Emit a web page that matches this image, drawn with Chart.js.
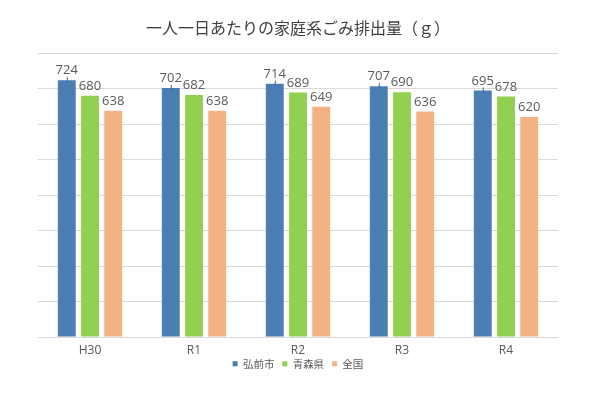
<!DOCTYPE html>
<html>
<head>
<meta charset="utf-8">
<script src="https://cdn.jsdelivr.net/npm/chart.js@4/dist/chart.umd.min.js"></script>
<style>
  html, body { margin: 0; padding: 0; background: #fff; }
  #wrap { width: 600px; height: 393px; }
</style>
</head>
<body>
<div id="wrap"><canvas id="canvas"></canvas></div>
<script>
// 年度
var years = ['H30', 'R1', 'R2', 'R3', 'R4'];
// 一人一日あたりの家庭系ごみ排出量 (g)
var hirosaki = [724, 702, 714, 707, 695];
var aomori = [680, 682, 689, 690, 678];
var zenkoku = [638, 638, 649, 636, 620];
var yTicks = [0, 100, 200, 300, 400, 500, 600, 700, 800];

var FONT = '"Noto Sans CJK JP", "Noto Sans", sans-serif';
var NUMFONT = '"Open Sans", "Noto Sans CJK JP", sans-serif';
var TEXT = '#595959';

// 棒の上に数値を書く
var valueLabels = {
  id: 'valueLabels',
  afterDatasetsDraw: function(chart) {
    var ctx = chart.ctx;
    ctx.save();
    ctx.font = '13px ' + NUMFONT;
    ctx.fillStyle = TEXT;
    ctx.textAlign = 'center';
    ctx.textBaseline = 'bottom';
    chart.data.datasets.forEach(function(ds, i) {
      chart.getDatasetMeta(i).data.forEach(function(bar, j) {
        if (i === 0) {
          // 弘前市の小さな誤差線
          ctx.strokeStyle = '#3a6592';
          ctx.lineWidth = 1;
          ctx.beginPath();
          ctx.moveTo(bar.x + 0.5, bar.y - 3);
          ctx.lineTo(bar.x + 0.5, bar.y + 2);
          ctx.stroke();
        }
        ctx.fillText(ds.data[j], bar.x, bar.y - 3);
      });
    });
    ctx.restore();
  }
};

// 凡例を軸ラベルに少し近づける
var legendUp = {
  id: 'legendUp',
  afterLayout: function(chart) {
    if (chart.legend) {
      chart.legend.top -= 13;
      chart.legend.bottom -= 13;
    }
  }
};

var config = {
  type: 'bar',
  data: {
    labels: years,
    datasets: [{
      label: '弘前市',
      data: hirosaki,
      backgroundColor: '#4a7eb4'
    }, {
      label: '青森県',
      data: aomori,
      backgroundColor: '#92d050'
    }, {
      label: '全国',
      data: zenkoku,
      backgroundColor: '#f4b183'
    }]
  },
  options: {
    responsive: true,
    maintainAspectRatio: false,
    animation: false,
    datasets: {
      bar: { categoryPercentage: 0.67, barPercentage: 0.77 }
    },
    layout: { padding: { left: 38, right: 42, top: 8, bottom: 1 } },
    plugins: {
      title: {
        display: true,
        text: '一人一日あたりの家庭系ごみ排出量（ｇ）',
        color: '#404040',
        font: { family: FONT, size: 16, weight: 'normal' },
        padding: { top: 10, bottom: 16 }
      },
      legend: {
        position: 'bottom',
        labels: {
          color: TEXT,
          font: { family: FONT, size: 10.5 },
          boxWidth: 5,
          boxHeight: 5,
          padding: 8
        }
      },
      tooltip: { enabled: false }
    },
    scales: {
      x: {
        grid: { display: false, drawTicks: false },
        border: { display: false },
        ticks: { color: TEXT, font: { family: NUMFONT, size: 12 }, padding: 6 }
      },
      y: {
        min: yTicks[0],
        max: yTicks[yTicks.length - 1],
        afterBuildTicks: function(axis) {
          axis.ticks = yTicks.map(function(v) { return { value: v }; });
        },
        grid: { color: '#d9d9d9', drawTicks: false },
        border: { display: false },
        ticks: { display: false }
      }
    }
  },
  plugins: [valueLabels, legendUp]
};

new Chart(document.getElementById('canvas'), config);
</script>
</body>
</html>
